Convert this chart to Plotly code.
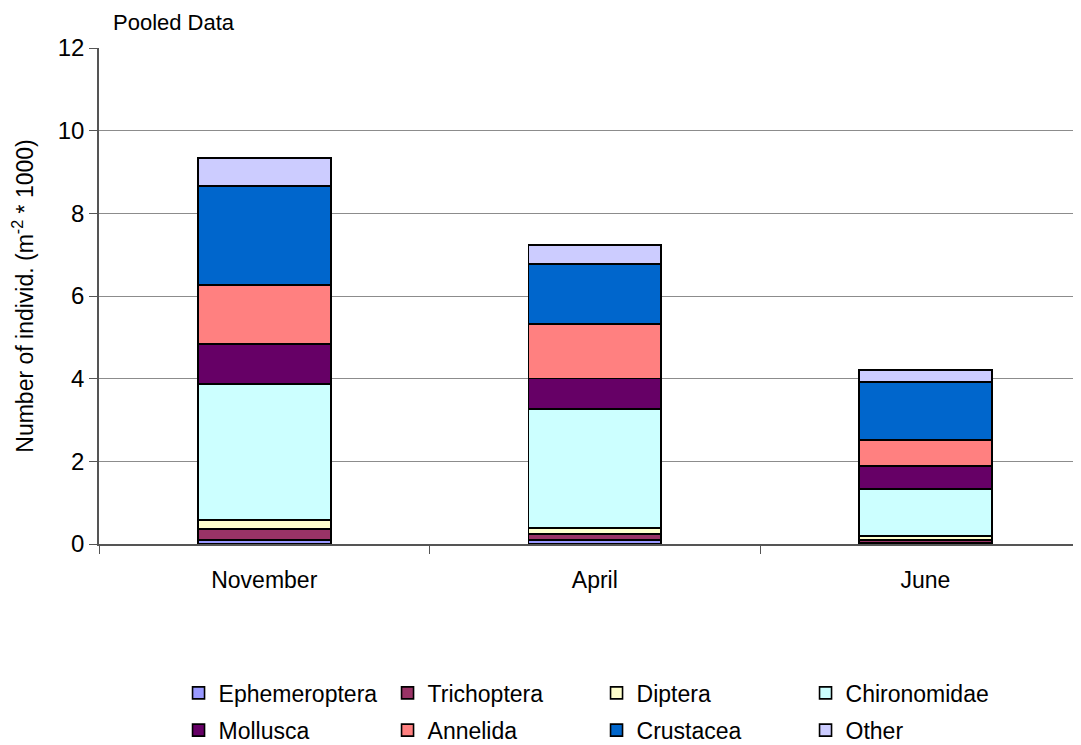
import plotly.graph_objects as go

months = ["November", "April", "June"]
taxa = ["Ephemeroptera", "Trichoptera", "Diptera", "Chironomidae",
        "Mollusca", "Annelida", "Crustacea", "Other"]
ephemeroptera = [0.09, 0.10, 0.02]
trichoptera = [0.27, 0.14, 0.08]
diptera = [0.22, 0.15, 0.09]
chironomidae = [3.29, 2.88, 1.14]
mollusca = [0.97, 0.73, 0.56]
annelida = [1.43, 1.32, 0.63]
crustacea = [2.39, 1.45, 1.40]
other = [0.68, 0.46, 0.29]
series = [ephemeroptera, trichoptera, diptera, chironomidae,
          mollusca, annelida, crustacea, other]
colors = ["#9999FF", "#993366", "#FFFFCC", "#CCFFFF",
          "#660066", "#FF8080", "#0066CC", "#CCCCFF"]
y_ticks = [0, 2, 4, 6, 8, 10, 12]

fig = go.Figure()
for i, (name, vals, col) in enumerate(zip(taxa, series, colors)):
    fig.add_trace(go.Bar(x=months, y=vals, name=name,
                         legend="legend" if i < 4 else "legend2",
                         marker=dict(color=col, line=dict(color="black", width=1.6))))

font = "Liberation Sans, Arial, sans-serif"
leg_common = dict(orientation="h", xanchor="left", yanchor="top",
                  traceorder="normal", entrywidth=164, entrywidthmode="pixels",
                  font=dict(size=23), itemclick=False, bgcolor="rgba(0,0,0,0)")
# page has an 8px body margin, so the figure is 8px smaller than the window
fig.update_layout(
    width=1073, height=737,
    barmode="stack", bargap=0.598,
    paper_bgcolor="white", plot_bgcolor="white",
    margin=dict(l=91, r=0, t=40, b=201, autoexpand=False),
    font=dict(family=font, size=23, color="black"),
    showlegend=True,
    legend=dict(x=0.081, y=-0.257, **leg_common),
    legend2=dict(x=0.081, y=-0.332, **leg_common),
    xaxis=dict(type="category", range=[-0.5, 2.471], showline=True,
               linecolor="#555555", linewidth=1.5, ticks="outside",
               tickson="boundaries", ticklen=8, tickcolor="#555555",
               showgrid=False, tickfont=dict(size=23), automargin=False,
               ticklabelstandoff=15),
    yaxis=dict(range=[0, 12], tickvals=y_ticks, showline=True,
               linecolor="#555555", linewidth=1.5, ticks="outside",
               ticklen=8, tickcolor="#555555", showgrid=True,
               gridcolor="#8C8C8C", gridwidth=1, zeroline=False,
               tickfont=dict(size=24), automargin=False, ticklabelstandoff=0,
               title=dict(text="Number of individ. (m<sup>-2</sup> * 1000)",
                          font=dict(size=23), standoff=24)),
    annotations=[dict(text="Pooled Data", xref="paper", yref="paper",
                      x=0.1405, y=1.022, xanchor="right", yanchor="bottom",
                      showarrow=False, font=dict(size=22))],
)
fig.write_html("out.html")
